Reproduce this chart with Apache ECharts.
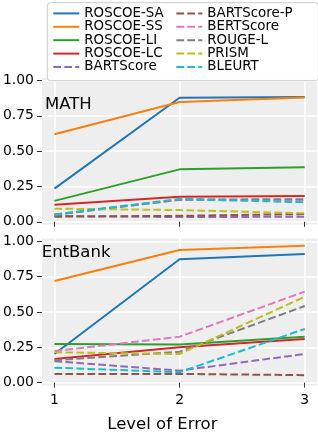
<!DOCTYPE html>
<html>
<head>
<meta charset="utf-8">
<script src="https://cdn.jsdelivr.net/npm/echarts@6/dist/echarts.min.js"></script>
<style>html,body{margin:0;padding:0;background:#fff}#c{width:318px;height:434px}</style>
</head>
<body>
<div id="c"></div>
<script>
// ---- data ----
const levels = [1, 2, 3];
const xTicks = [1, 2, 3];
const yTicks = [0, 0.25, 0.5, 0.75, 1.0];
const seriesNames = ['ROSCOE-SA', 'ROSCOE-SS', 'ROSCOE-LI', 'ROSCOE-LC', 'BARTScore',
                     'BARTScore-P', 'BERTScore', 'ROUGE-L', 'PRISM', 'BLEURT'];
const panelNames = ['MATH', 'EntBank'];

// MATH
const mathSA     = [0.235, 0.878, 0.883];
const mathSS     = [0.62, 0.848, 0.88];
const mathLI     = [0.148, 0.371, 0.386];
const mathLC     = [0.121, 0.178, 0.182];
const mathBART   = [0.042, 0.033, 0.036];
const mathBARTP  = [0.036, 0.042, 0.055];
const mathBERT   = [0.05, 0.155, 0.15];
const mathROUGE  = [0.05, 0.157, 0.16];
const mathPRISM  = [0.093, 0.083, 0.06];
const mathBLEURT = [0.052, 0.162, 0.138];

// EntBank
const entSA     = [0.203, 0.873, 0.91];
const entSS     = [0.719, 0.938, 0.969];
const entLI     = [0.274, 0.27, 0.325];
const entLC     = [0.168, 0.25, 0.309];
const entBART   = [0.152, 0.085, 0.203];
const entBARTP  = [0.062, 0.062, 0.053];
const entBERT   = [0.224, 0.325, 0.644];
const entROUGE  = [0.158, 0.219, 0.542];
const entPRISM  = [0.215, 0.203, 0.608];
const entBLEURT = [0.106, 0.074, 0.38];

const mathValues = [mathSA, mathSS, mathLI, mathLC, mathBART, mathBARTP, mathBERT, mathROUGE, mathPRISM, mathBLEURT];
const entValues  = [entSA, entSS, entLI, entLC, entBART, entBARTP, entBERT, entROUGE, entPRISM, entBLEURT];

// ---- style ----
const colors = ['#1f77b4', '#ff7f0e', '#2ca02c', '#d62728', '#9467bd',
                '#8c564b', '#e377c2', '#7f7f7f', '#bcbd22', '#17becf'];
const dashedFlags = [false, false, false, false, true, true, true, true, true, true];
const FONT = 'DejaVu Sans';

function mkSeries(values, gridIdx) {
  return values.map((vals, i) => ({
    name: seriesNames[i],
    type: 'line',
    xAxisIndex: gridIdx,
    yAxisIndex: gridIdx,
    symbol: 'none',
    data: levels.map((x, k) => [x, vals[k]]),
    lineStyle: { color: colors[i], width: 2, type: dashedFlags[i] ? [7.7, 3.3] : 'solid' },
    itemStyle: { color: colors[i] },
    emphasis: { disabled: true },
    z: 2 + i * 0.01
  }));
}

function xAxisCfg(gridIdx, showLabels) {
  return {
    type: 'value', gridIndex: gridIdx, min: 0.9, max: 3.1,
    axisLine: { show: false },
    axisTick: { show: true, customValues: xTicks, length: 5, lineStyle: { color: '#333', width: 1 } },
    axisLabel: { show: showLabels, customValues: xTicks, fontFamily: FONT, fontSize: 13.9, color: '#000', margin: 8 },
    splitLine: { show: true, lineStyle: { color: '#ffffff', width: 1.6 } }
  };
}
function yAxisCfg(gridIdx) {
  return {
    type: 'value', gridIndex: gridIdx, min: -0.02, max: 1.02,
    axisLine: { show: false },
    axisTick: { show: true, customValues: yTicks, length: 5, lineStyle: { color: '#333', width: 1 } },
    axisLabel: { customValues: yTicks, fontFamily: FONT, fontSize: 13.9, color: '#000', margin: 8,
                 formatter: v => v.toFixed(2) },
    splitLine: { show: true, lineStyle: { color: '#ffffff', width: 1.6 } }
  };
}

const chart = echarts.init(document.getElementById('c'), null, { renderer: 'canvas' });
chart.setOption({
  animation: false,
  backgroundColor: '#ffffff',
  grid: [
    { left: 40, width: 277.2, top: 77.7, height: 146.9, show: true, backgroundColor: '#eeeeee', borderWidth: 0 },
    { left: 40, width: 277.2, top: 238.5, height: 147, show: true, backgroundColor: '#eeeeee', borderWidth: 0 }
  ],
  xAxis: [xAxisCfg(0, false), xAxisCfg(1, true)],
  yAxis: [yAxisCfg(0), yAxisCfg(1)],
  title: [
    { text: panelNames[0], left: 45, top: 96.5, padding: 0,
      textStyle: { fontFamily: FONT, fontSize: 16.5, fontWeight: 'normal', color: '#000' } },
    { text: panelNames[1], left: 41.7, top: 244.3, padding: 0,
      textStyle: { fontFamily: FONT, fontSize: 16.5, fontWeight: 'normal', color: '#000' } },
    { text: 'Level of Error', left: 107.3, top: 416, padding: 0,
      textStyle: { fontFamily: FONT, fontSize: 16.5, fontWeight: 'normal', color: '#000' } }
  ],
  legend: {
    data: seriesNames,
    orient: 'vertical',
    left: 47.3, top: 2.7,
    height: 68,
    padding: [4, 20, 7, 5],
    itemGap: 0,
    itemWidth: 26,
    itemHeight: 13.4,
    itemStyle: { opacity: 0 },
    lineStyle: { width: 2 },
    backgroundColor: 'rgba(255,255,255,0.85)',
    borderColor: '#cccccc',
    borderWidth: 1,
    borderRadius: 3,
    textStyle: { fontFamily: FONT, fontSize: 13.4, color: '#000', lineHeight: 13.4, width: 91 },
    selectedMode: false
  },
  series: [...mkSeries(mathValues, 0), ...mkSeries(entValues, 1)]
});
</script>
</body>
</html>
